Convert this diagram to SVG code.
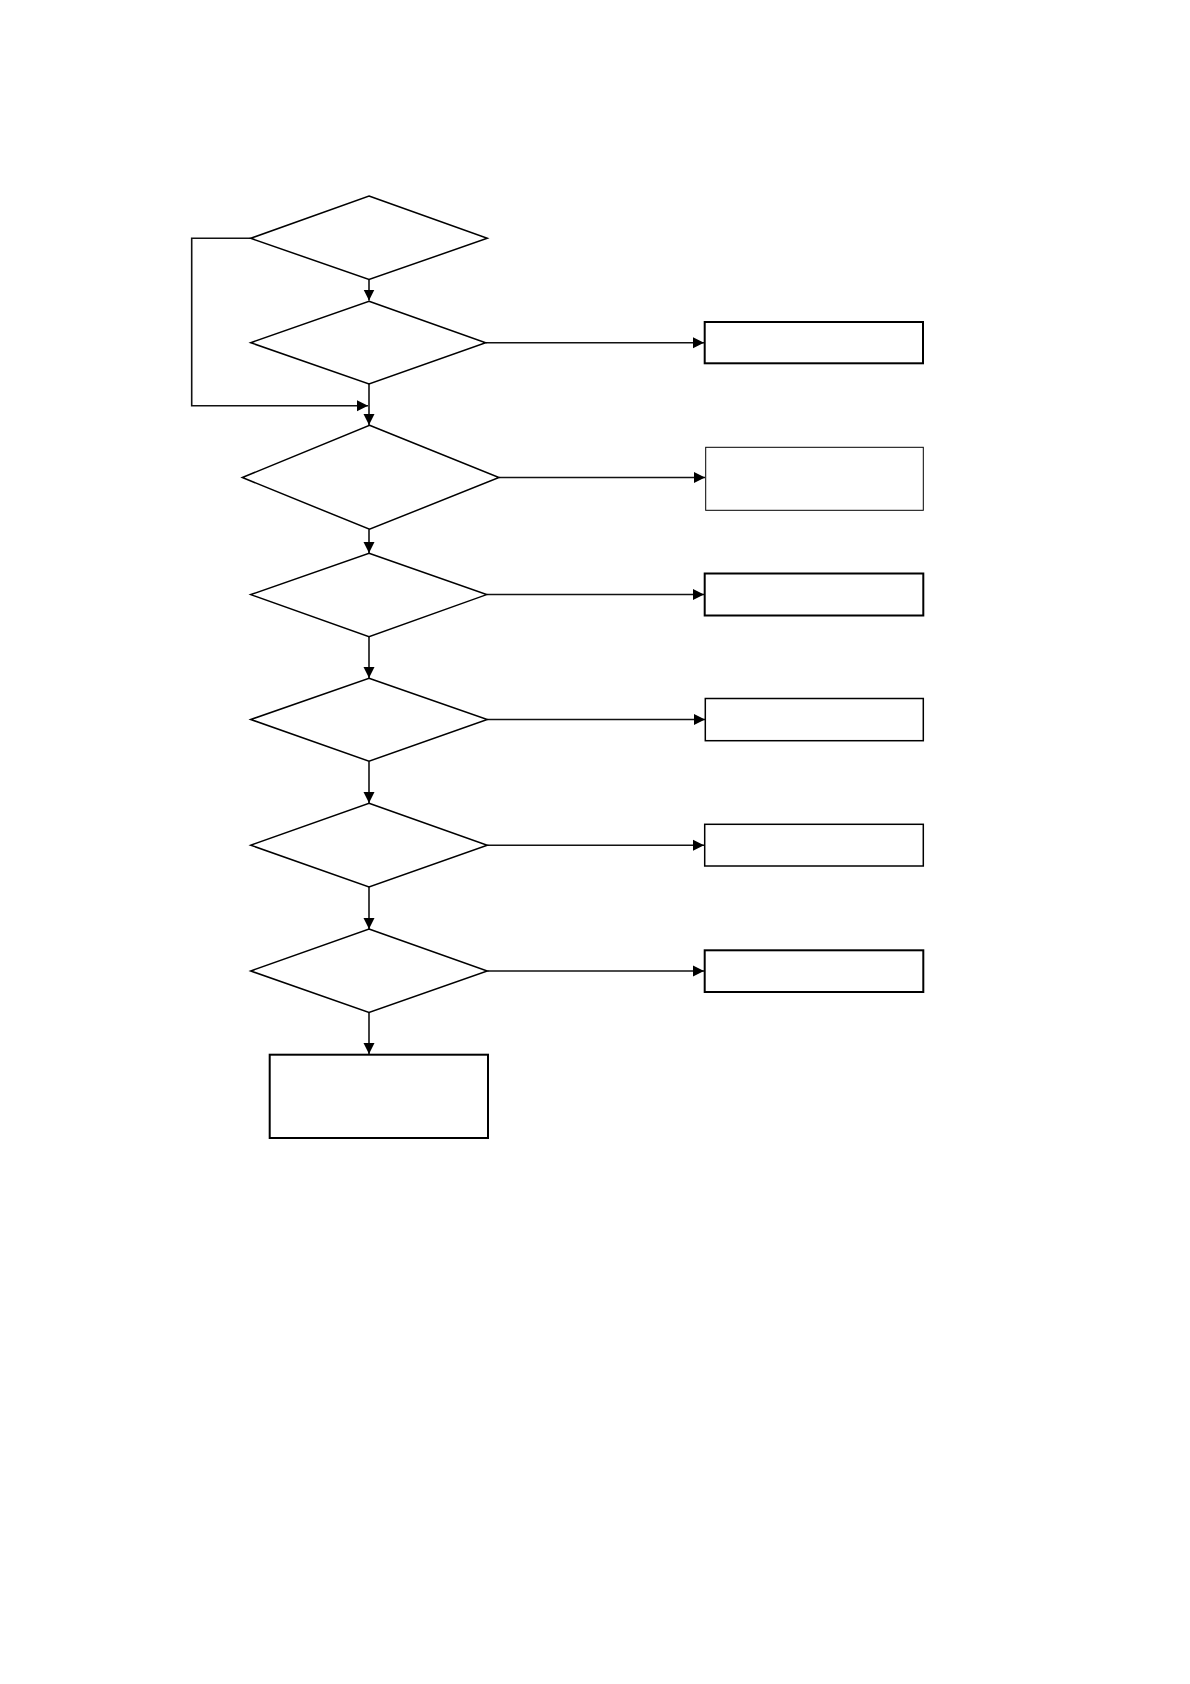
<svg xmlns="http://www.w3.org/2000/svg" width="1190" height="1684" viewBox="0 0 1190 1684">
<style>
.n{fill:#fff;stroke:#000;stroke-width:1.5}
.b{fill:#fff;stroke:#000;stroke-width:2}
.t{fill:#fff;stroke:#000;stroke-width:1}
.c{fill:none;stroke:#111;stroke-width:1.6}
</style>
<defs>
<marker id="a" markerUnits="userSpaceOnUse" markerWidth="12" markerHeight="12" viewBox="0 0 12 12" refX="11" refY="6" orient="auto">
<path d="M0,0.5 L11,6 L0,11.5 Z" fill="#000"/>
</marker>
</defs>
<rect width="1190" height="1684" fill="#fff"/>
<g id="connectors">
<path class="c" d="M369,279.5 V300.5" marker-end="url(#a)"/>
<path class="c" d="M250.7,238.3 H191.7 V405.7 H368" marker-end="url(#a)"/>
<path class="c" d="M369,384 V425" marker-end="url(#a)"/>
<path class="c" d="M369,529.3 V553" marker-end="url(#a)"/>
<path class="c" d="M369,636.7 V678" marker-end="url(#a)"/>
<path class="c" d="M369,761.3 V803" marker-end="url(#a)"/>
<path class="c" d="M369,887 V929" marker-end="url(#a)"/>
<path class="c" d="M369,1012.5 V1054" marker-end="url(#a)"/>
<path class="c" d="M485.7,342.7 H704" marker-end="url(#a)"/>
<path class="c" d="M499,477.5 H705" marker-end="url(#a)"/>
<path class="c" d="M486.7,594.5 H704" marker-end="url(#a)"/>
<path class="c" d="M487.3,719.5 H705" marker-end="url(#a)"/>
<path class="c" d="M487.3,845.2 H704" marker-end="url(#a)"/>
<path class="c" d="M487.3,971 H704" marker-end="url(#a)"/>
</g>
<g id="d1"><polygon class="n" points="369,196 487.3,238.3 369,279.5 250.7,238.3"/></g>
<g id="d2"><polygon class="n" points="369,301.3 485.7,342.7 369,384 250.7,342.7"/></g>
<g id="d3"><polygon class="n" points="369.5,425.3 499,477.5 369.5,529.3 242.3,477.5"/></g>
<g id="d4"><polygon class="n" points="369,553.3 486.7,594.6 369,636.7 250.7,594.6"/></g>
<g id="d5"><polygon class="n" points="369,678.3 487.3,719.5 369,761.3 250.7,719.5"/></g>
<g id="d6"><polygon class="n" points="369,803.3 487.3,845.2 369,887 250.7,845.2"/></g>
<g id="d7"><polygon class="n" points="369,929 487.3,971 369,1012.5 250.7,971"/></g>
<g id="r1"><rect class="b" x="704.7" y="322" width="218.3" height="41.3"/></g>
<g id="r2"><rect class="t" x="705.7" y="447.3" width="217.6" height="63"/></g>
<g id="r3"><rect class="b" x="704.7" y="573.5" width="218.6" height="42"/></g>
<g id="r4"><rect class="n" x="705.3" y="698.5" width="218" height="42.2"/></g>
<g id="r5"><rect class="n" x="704.7" y="824.3" width="218.6" height="41.7"/></g>
<g id="r6"><rect class="b" x="704.7" y="950.3" width="218.6" height="41.7"/></g>
<g id="r7"><rect class="b" x="269.7" y="1054.7" width="218.3" height="83.3"/></g>
</svg>
